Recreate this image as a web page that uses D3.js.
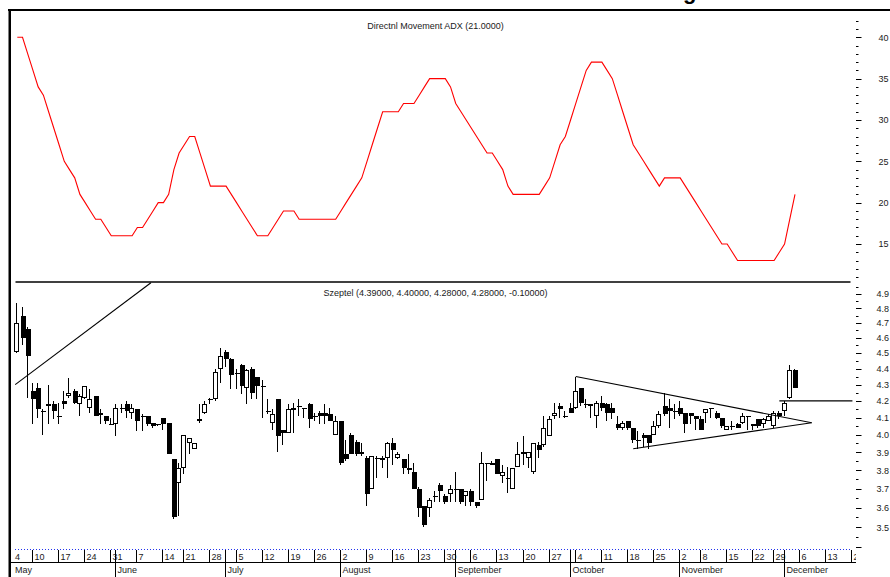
<!DOCTYPE html>
<html><head><meta charset="utf-8">
<script src="https://cdn.jsdelivr.net/npm/d3@7"></script>
<style>
html,body{margin:0;padding:0;background:#fff;}
svg{display:block;font-family:"Liberation Sans",Arial,sans-serif;}
</style></head><body>
<svg id="c" width="890" height="577"></svg>
<script>
// ---------------- data ----------------
const adxTitle = "Directnl Movement ADX (21.0000)";
const priceTitle = "Szeptel (4.39000, 4.40000, 4.28000, 4.28000, -0.10000)";

const adxValues = [40,40,38,36,34,33,31,29,27,25,24,23,21,20,19,18,18,17,16,16,
16,16,16,17,17,18,19,20,20,21,24,26,27,28,28,26,24,22,22,22,
22,21,20,19,18,17,16,16,16,17,18,19,19,19,18,18,18,18,18,18,
18,18,19,20,21,22,23,25,27,29,31,31,31,31,32,32,32,33,34,35,
35,35,35,34,32,31,30,29,28,27,26,26,25,24,22,21,21,21,21,21,
21,22,23,25,27,28,30,32,34,36,37,37,37,36,35,33,31,29,27,26,
25,24,23,22,23,23,23,23,22,21,20,19,18,17,16,15,15,14,13,13,
13,13,13,13,13,13,14,15,18,21];

const opens = [4.51,4.75,4.66,4.26,4.28,4.14,4.17,4.18,4.11,4.20,4.23,4.26,4.18,4.22,4.16,4.23,4.12,4.11,4.06,4.06,
4.16,4.18,4.13,4.15,4.11,4.11,4.07,4.06,4.10,4.07,3.86,3.73,3.81,3.95,3.92,4.08,4.13,4.21,4.21,4.40,
4.51,4.46,4.37,4.42,4.28,4.40,4.35,4.29,4.14,4.07,4.21,4.03,4.01,4.15,4.17,4.16,4.18,4.11,4.13,4.13,
4.12,4.00,4.08,3.89,4.00,3.96,3.89,3.87,3.70,3.87,3.86,3.87,3.95,3.87,3.86,3.81,3.79,3.70,3.61,3.60,
3.66,3.72,3.66,3.67,3.70,3.70,3.66,3.69,3.63,3.64,3.84,3.84,3.86,3.77,3.76,3.70,3.82,3.89,3.87,3.79,
3.94,3.94,3.99,4.11,4.17,4.11,4.16,4.16,4.28,4.18,4.17,4.11,4.19,4.18,4.16,4.06,4.04,4.08,4.04,3.97,
4.00,4.00,4.00,4.05,4.17,4.16,4.14,4.16,4.13,4.13,4.11,4.09,4.13,4.16,4.13,4.10,4.03,4.05,4.06,4.07,
4.11,4.06,4.09,4.06,4.08,4.05,4.13,4.14,4.22,4.39];
const highs = [4.84,4.81,4.67,4.31,4.31,4.15,4.30,4.20,4.19,4.26,4.34,4.27,4.24,4.29,4.27,4.23,4.15,4.11,4.10,4.18,
4.18,4.20,4.18,4.15,4.12,4.11,4.07,4.06,4.10,4.07,3.86,3.84,4.00,3.98,3.95,4.18,4.20,4.22,4.40,4.53,
4.52,4.47,4.40,4.43,4.40,4.41,4.35,4.33,4.21,4.15,4.21,4.03,4.18,4.19,4.21,4.16,4.19,4.13,4.14,4.18,
4.16,4.11,4.08,3.97,4.01,3.97,3.95,3.88,3.88,3.88,3.88,3.96,3.98,3.90,3.86,3.89,3.84,3.71,3.61,3.65,
3.69,3.73,3.67,3.72,3.79,3.70,3.69,3.70,3.63,3.90,3.84,3.85,3.86,3.83,3.82,3.81,3.96,3.99,3.90,3.95,
3.96,4.11,4.11,4.19,4.19,4.14,4.19,4.35,4.28,4.21,4.18,4.20,4.23,4.19,4.19,4.11,4.08,4.08,4.04,4.02,
4.01,4.00,4.08,4.14,4.25,4.21,4.18,4.20,4.13,4.13,4.11,4.11,4.15,4.16,4.14,4.10,4.05,4.08,4.07,4.13,
4.11,4.06,4.09,4.10,4.12,4.14,4.14,4.20,4.42,4.40];
const lows = [4.50,4.55,4.22,4.06,4.10,4.00,4.06,4.09,4.06,4.15,4.22,4.18,4.11,4.21,4.13,4.11,4.06,4.06,4.06,3.99,
4.13,4.10,4.09,4.02,4.02,4.05,4.04,4.05,4.03,3.89,3.54,3.56,3.78,3.89,3.92,4.07,4.12,4.18,4.20,4.31,
4.41,4.27,4.27,4.24,4.18,4.21,4.21,4.10,4.12,4.03,3.90,3.94,4.01,4.01,4.11,4.10,4.04,4.08,4.06,4.06,
4.08,4.00,3.83,3.85,3.89,3.88,3.88,3.61,3.70,3.76,3.81,3.76,3.83,3.86,3.78,3.78,3.70,3.55,3.50,3.55,
3.63,3.63,3.62,3.63,3.63,3.62,3.61,3.61,3.60,3.64,3.74,3.83,3.78,3.73,3.68,3.70,3.82,3.83,3.81,3.78,
3.87,3.93,3.99,4.09,4.10,4.10,4.13,4.15,4.17,4.16,4.10,4.04,4.14,4.08,4.09,4.03,4.03,4.03,3.95,3.92,
3.93,3.92,4.00,4.04,4.11,4.04,4.09,4.11,4.01,4.06,4.03,4.03,4.07,4.10,4.09,4.04,4.03,4.03,4.04,4.06,
4.03,4.03,4.04,4.04,4.08,4.04,4.09,4.11,4.21,4.28];
const closes = [4.70,4.60,4.48,4.21,4.15,4.14,4.18,4.14,4.11,4.18,4.25,4.19,4.23,4.29,4.21,4.11,4.13,4.08,4.06,4.16,
4.16,4.14,4.16,4.08,4.11,4.06,4.05,4.06,4.06,3.89,3.55,3.81,4.00,3.98,3.95,4.09,4.18,4.21,4.38,4.48,
4.46,4.36,4.37,4.29,4.39,4.25,4.29,4.29,4.14,4.12,3.99,4.01,4.15,4.16,4.17,4.16,4.09,4.11,4.11,4.11,
4.08,4.08,3.84,3.86,3.89,3.89,3.90,3.67,3.88,3.87,3.87,3.95,3.91,3.89,3.81,3.80,3.70,3.60,3.51,3.64,
3.66,3.69,3.63,3.70,3.70,3.63,3.69,3.63,3.61,3.84,3.84,3.83,3.78,3.79,3.76,3.81,3.89,3.90,3.90,3.95,
3.91,4.04,4.09,4.13,4.15,4.11,4.13,4.26,4.19,4.18,4.18,4.19,4.16,4.13,4.13,4.04,4.07,4.04,3.97,3.97,
3.98,3.95,4.05,4.12,4.12,4.14,4.14,4.12,4.06,4.11,4.09,4.03,4.15,4.16,4.10,4.05,4.05,4.05,4.04,4.11,
4.11,4.05,4.05,4.09,4.11,4.13,4.11,4.19,4.39,4.28];

// date axis (positions given as trading-day index)
const weekLabels = ["4","10","17","24","31","7","14","21","28","5","12","19","26","2","9","16","23","30","6","13","20","27","4","11","18","25","2","8","15","22","29","6","13","20"];
const weekIdx    = [0,3,8,13,18,23,28,32,37,42,47,52,57,62,67,72,77,82,87,92,97,102,107,112,117,122,127,131,136,141,145,150,155,160];
const monthNames = ["May","June","July","August","September","October","November","December"];
const monthIdx   = [0,19,40,62,84,106,127,147];

const adxTicks = [15,20,25,30,35,40];
const priceTicks = [3.5,3.6,3.7,3.8,3.9,4.0,4.1,4.2,4.3,4.4,4.5,4.6,4.7,4.8,4.9];

// drawn study lines: [index, price]
const trendLine  = [[-0.4,4.30],[25.6,4.98]];
const triUpper   = [[107,4.35],[152.2,4.07]];
const triLower   = [[118,3.92],[152.2,4.07]];
const resistLine = [[146,4.20],[160,4.20]];

// ---------------- chart ----------------
const svg = d3.select("#c");
const x = d3.scaleLinear().domain([0,149]).range([17.3,795]);
const yA = d3.scaleLinear().domain([15,40]).range([244,37.3]);
const yP = d3.scaleLog().domain([3.5,4.9]).range([527.3,294]);
const txt = "#1a1a1a";

// frame
svg.append("rect").attr("x",8).attr("y",9).attr("width",882).attr("height",2).attr("fill","#000");
svg.append("rect").attr("x",8.5).attr("y",9).attr("width",2.5).attr("height",568).attr("fill","#000");
// partially visible title glyph above frame
svg.append("text").attr("x",683).attr("y",-1).attr("font-size",22).attr("font-weight","bold").attr("fill","#000").text("g");

// panel separator
svg.append("line").attr("x1",15.5).attr("x2",850.5).attr("y1",282).attr("y2",282).attr("stroke","#000").attr("stroke-width",1.5);

// titles
svg.append("text").attr("x",435.5).attr("y",28.5).attr("text-anchor","middle").attr("font-size",9).attr("fill",txt).text(adxTitle);
svg.append("text").attr("x",435.5).attr("y",296).attr("text-anchor","middle").attr("font-size",9).attr("fill",txt).text(priceTitle);

// ADX line
svg.append("path").datum(adxValues)
  .attr("d", d3.line().x((d,i)=>x(i)).y(d=>yA(d)))
  .attr("fill","none").attr("stroke","#ff0000").attr("stroke-width",1.1);

// ADX right axis
const aAxis = svg.append("g");
d3.range(11,43).forEach(v=>{
  const yy = Math.round(yA(v))+0.5;
  const major = adxTicks.includes(v);
  aAxis.append("line").attr("x1",856).attr("x2",major?861.5:858.5).attr("y1",yy).attr("y2",yy)
    .attr("stroke","#000").attr("stroke-width",1);
});
adxTicks.forEach(v=>{
  aAxis.append("text").attr("x",878.5).attr("y",yA(v)+3.3).attr("font-size",9).attr("fill",txt).text(v);
});

// price right axis
const pAxis = svg.append("g");
d3.range(0,32).map(k=>+(3.4+k*0.05).toFixed(2)).forEach(v=>{
  const yy = Math.round(yP(v))+0.5;
  const major = Math.abs(v*10-Math.round(v*10))<1e-6;
  pAxis.append("line").attr("x1",856).attr("x2",major?861.5:858.5).attr("y1",yy).attr("y2",yy)
    .attr("stroke","#000").attr("stroke-width",1);
});
priceTicks.forEach(v=>{
  pAxis.append("text").attr("x",876.5).attr("y",yP(v)+3.3).attr("font-size",9).attr("fill",txt).text(v.toFixed(1));
});

// candles
const cg = svg.append("g").attr("shape-rendering","crispEdges");
opens.forEach((o,i)=>{
  const h=highs[i], l=lows[i], c=closes[i];
  const cx = Math.round(x(i));
  const yH = Math.round(yP(h)), yL = Math.round(yP(l));
  const yO = Math.round(yP(o)), yC = Math.round(yP(c));
  cg.append("line").attr("x1",cx-0.5).attr("x2",cx-0.5).attr("y1",yH).attr("y2",Math.max(yL,yH+1)).attr("stroke","#000");
  const top = Math.min(yO,yC), bot = Math.max(yO,yC);
  if (bot-top < 1) {
    cg.append("line").attr("x1",cx-2.5).attr("x2",cx+2.5).attr("y1",top+0.5).attr("y2",top+0.5).attr("stroke","#000");
  } else if (c > o) {
    cg.append("rect").attr("x",cx-2.5).attr("y",top+0.5).attr("width",4).attr("height",Math.max(bot-top-1,1))
      .attr("fill","#fff").attr("stroke","#000").attr("stroke-width",1);
  } else {
    cg.append("rect").attr("x",cx-2.5).attr("y",top).attr("width",5).attr("height",bot-top).attr("fill","#000");
  }
});

// study lines
const sl = (pts)=>svg.append("line")
  .attr("x1",x(pts[0][0])).attr("y1",yP(pts[0][1]))
  .attr("x2",x(pts[1][0])).attr("y2",yP(pts[1][1]))
  .attr("stroke","#000").attr("stroke-width",1.1);
sl(trendLine); sl(triUpper); sl(triLower); sl(resistLine);

// date axis
svg.append("line").attr("x1",15).attr("x2",852).attr("y1",549.5).attr("y2",549.5)
  .attr("stroke","#2233ee").attr("stroke-width",1).attr("stroke-dasharray","1,2");
svg.append("line").attr("x1",11).attr("x2",856).attr("y1",562.5).attr("y2",562.5).attr("stroke","#000");
svg.append("defs").append("clipPath").attr("id","dc").append("rect").attr("x",11).attr("y",549).attr("width",845).attr("height",30);
const dg = svg.append("g").attr("clip-path","url(#dc)");
weekIdx.forEach((idx,k)=>{
  const tx = Math.round(x(idx))-0.5;
  if (k>0) dg.append("line").attr("x1",tx).attr("x2",tx).attr("y1",550).attr("y2",562).attr("stroke","#000");
  dg.append("text").attr("x", k>0 ? tx+2 : 15).attr("y",559.5).attr("font-size",9).attr("fill",txt).text(weekLabels[k]);
});
monthIdx.forEach((idx,k)=>{
  const tx = Math.round(x(idx))-0.5;
  if (k>0) dg.append("line").attr("x1",tx).attr("x2",tx).attr("y1",550).attr("y2",577).attr("stroke","#000");
  dg.append("text").attr("x", k>0 ? tx+2 : 15).attr("y",573).attr("font-size",9).attr("fill",txt).text(monthNames[k]);
});
</script>
</body></html>
